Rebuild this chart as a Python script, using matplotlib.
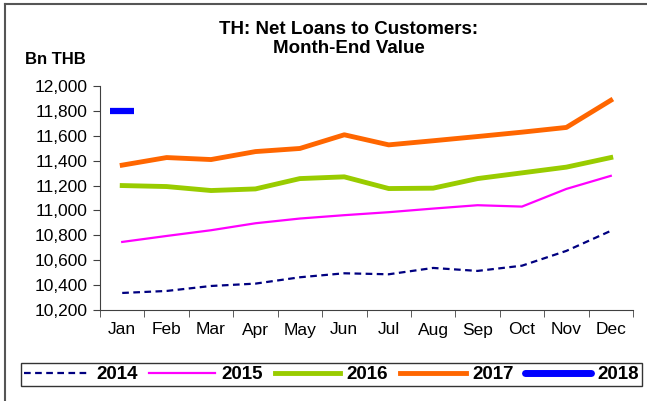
import numpy as np
import matplotlib
matplotlib.use('Agg')
import matplotlib.pyplot as plt
from matplotlib.lines import Line2D

plt.rcParams['font.family'] = ['Liberation Sans', 'DejaVu Sans']

months = ['Jan', 'Feb', 'Mar', 'Apr', 'May', 'Jun', 'Jul', 'Aug', 'Sep', 'Oct', 'Nov', 'Dec']
y2014 = [10337, 10353, 10393, 10412, 10463, 10495, 10487, 10538, 10514, 10556, 10675, 10836]
y2015 = [10747, 10795, 10841, 10897, 10935, 10962, 10986, 11015, 11042, 11031, 11173, 11278]
y2016 = [11200, 11192, 11160, 11173, 11256, 11270, 11176, 11179, 11256, 11302, 11348, 11425]
y2017 = [11364, 11425, 11409, 11473, 11498, 11608, 11527, 11560, 11594, 11629, 11667, 11885]
y2018 = [11800]
yticks = np.arange(10200, 12001, 200)

fig = plt.figure(figsize=(6.47, 4.01), dpi=100)
ax = fig.add_axes([100/647, 1-310/401, 533/647, 224/401])
x = np.arange(len(months))

ax.plot(x, y2014, color='#000080', lw=1.6, ls=(0, (3, 2)), label='2014')
ax.plot(x, y2015, color='#FF00FF', lw=1.6, label='2015')
ax.plot(x, y2016, color='#99CC00', lw=3.5, label='2016')
ax.plot(x, y2017, color='#FF6600', lw=3.5, label='2017')
ax.plot(x[:len(y2018)], y2018, color='#0000FF', lw=5, ls='none',
        marker='_', markersize=17, markeredgewidth=4.5)

ax.set_xlim(-0.5, 11.5)
ax.set_ylim(10200, 12000)
ax.set_yticks(yticks)
ax.set_yticklabels([f'{v:,}' for v in yticks], fontsize=12.5)
ax.set_xticks(x)
ax.set_xticklabels(months, fontsize=12.5)
ax.set_xticks(np.arange(-0.5, 12, 1), minor=True)
ax.tick_params(axis='x', which='major', length=0, pad=9)
ax.tick_params(axis='x', which='minor', length=5, color='#404040')
ax.tick_params(axis='y', length=5, color='#404040', pad=4)
for s in ['top', 'right']:
    ax.spines[s].set_visible(False)
for s in ['left', 'bottom']:
    ax.spines[s].set_color('#404040')

fig.text(349/647, 1-39/401, 'TH: Net Loans to Customers:\nMonth-End Value',
         ha='center', va='center', fontsize=13.5, fontweight='bold', linespacing=1.15)
fig.text(25/647, 1-60/401, 'Bn THB', ha='left', va='center', fontsize=12, fontweight='bold')

handles = [
    Line2D([], [], color='#000080', lw=1.6, ls=(0, (3, 2))),
    Line2D([], [], color='#FF00FF', lw=1.6),
    Line2D([], [], color='#99CC00', lw=3.5),
    Line2D([], [], color='#FF6600', lw=3.5),
    Line2D([], [], color='#0000FF', lw=5, solid_capstyle='round'),
]
leg = fig.legend(handles, ['2014', '2015', '2016', '2017', '2018'], ncol=5,
                 loc='lower left', bbox_to_anchor=(21/647, 15/401, 621/647, 24/401),
                 mode='expand', prop={'weight': 'bold', 'size': 13.5},
                 handlelength=3.5, handletextpad=0.35, columnspacing=0.7,
                 frameon=True, fancybox=False, borderaxespad=0, borderpad=0.15)
leg.get_frame().set_edgecolor('black')
leg.get_frame().set_linewidth(1)

# outer chart border (left and top visible)
fig.add_artist(Line2D([5/647, 5/647], [0, 1-4/401], transform=fig.transFigure, color='#555555', lw=1.5))
fig.add_artist(Line2D([5/647, 1], [1-4/401, 1-4/401], transform=fig.transFigure, color='#555555', lw=1.5))

fig.savefig('out.png', dpi=100)
